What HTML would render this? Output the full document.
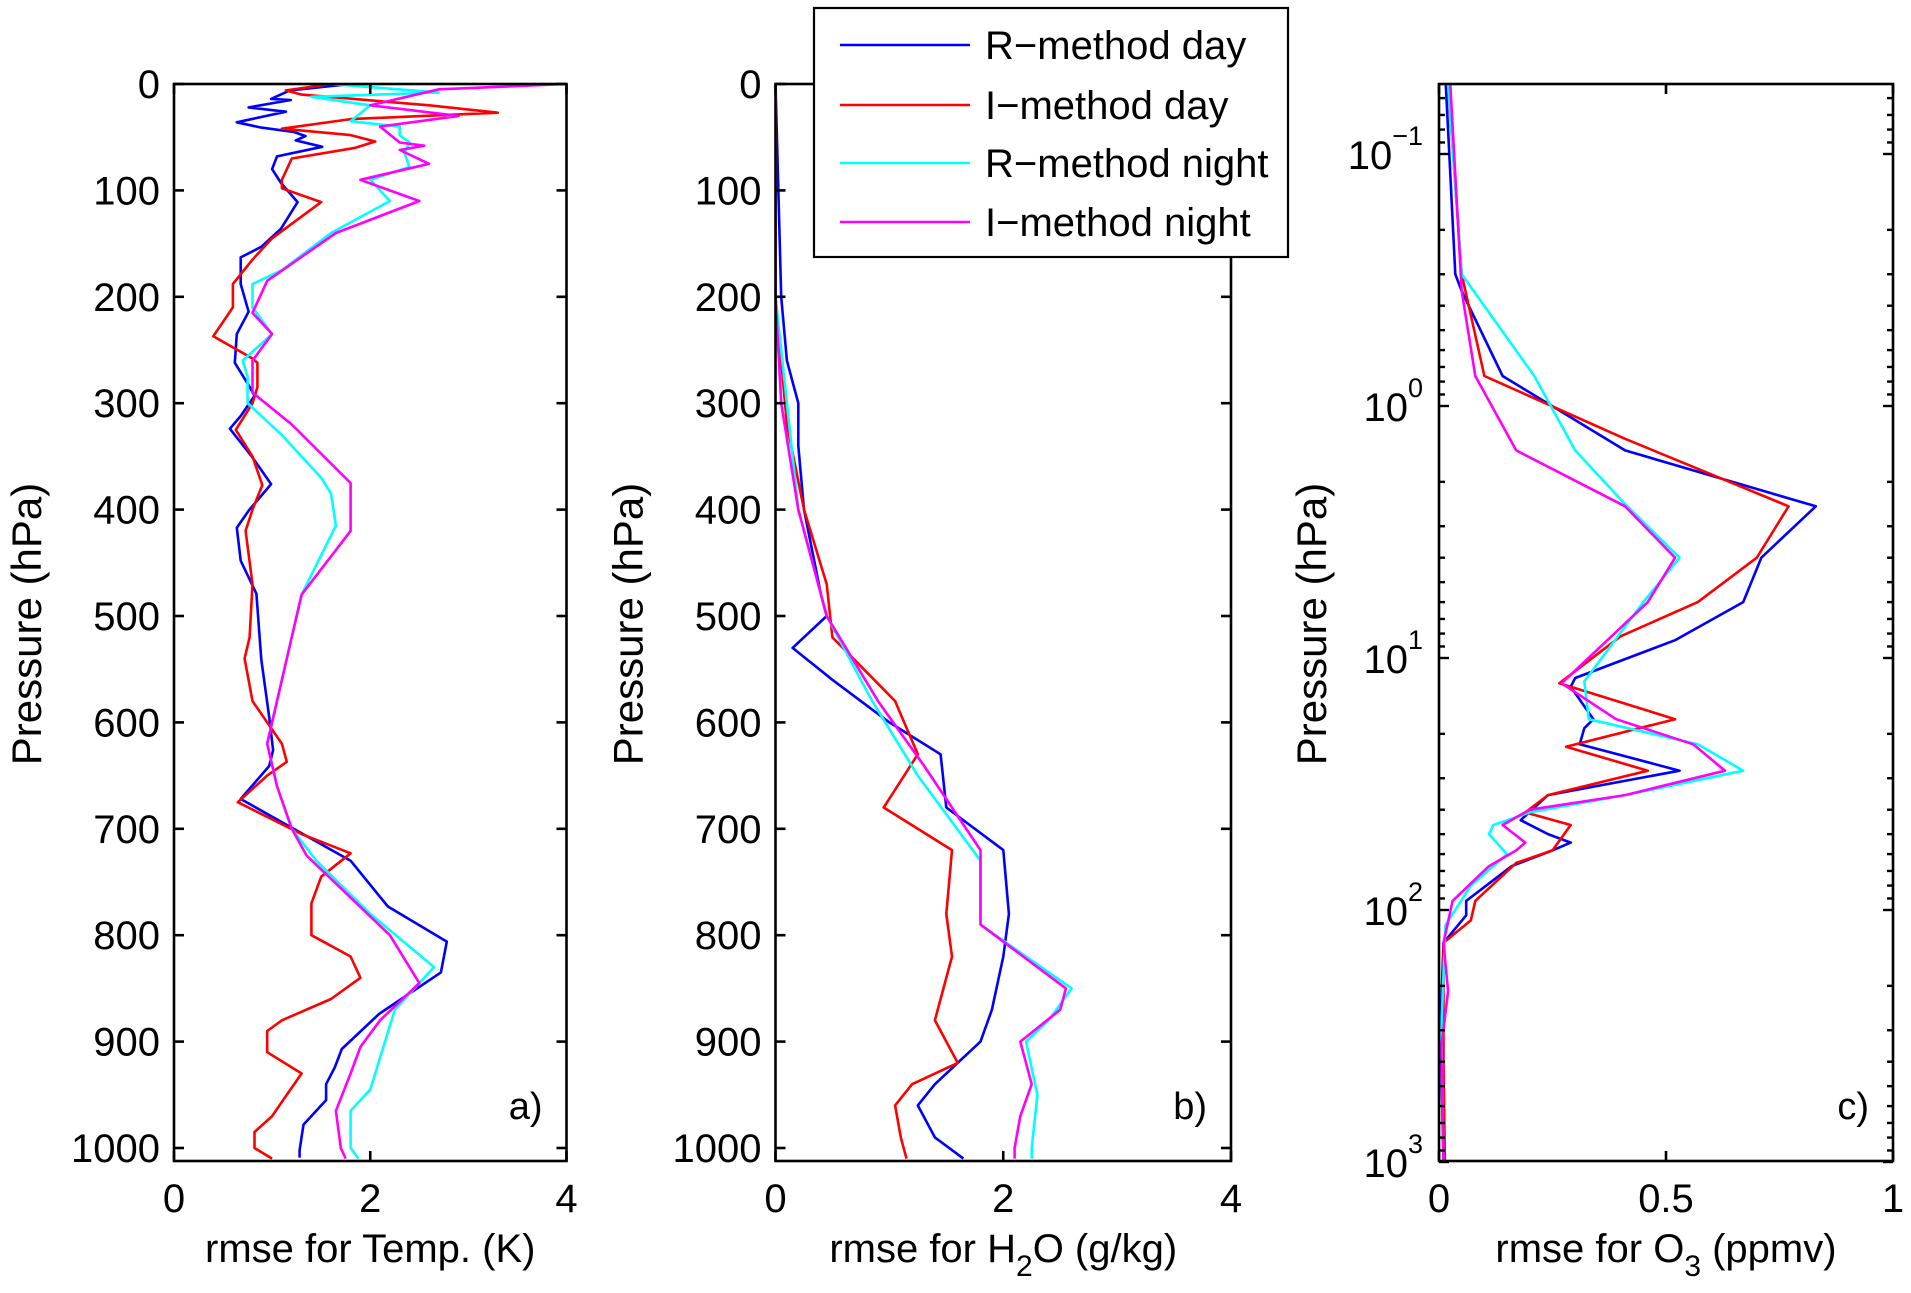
<!DOCTYPE html>
<html><head><meta charset="utf-8"><style>
html,body{margin:0;padding:0;background:#fff}
svg{display:block}
text{font-family:"Liberation Sans",sans-serif;fill:#000}
</style></head><body>
<svg id="fig" width="1911" height="1293" viewBox="0 0 1911 1293" xmlns="http://www.w3.org/2000/svg"></svg>
<script>
// ---- data ----
const seriesNames = ["R-method day","I-method day","R-method night","I-method night"];
const seriesColors = ["#0000ff","#ff0000","#00ffff","#ff00ff"];
// panel a: pressures and temperature rmse (K)
const tP0 = [0,6,14,15,22,26,36,41,45,49,53,59,68,80,93,111,136,153,163,188,214,235,262,283,293,312,324,351,376,401,417,448,479,541,595,626,641,672,730,773,806,835,874,907,924,940,955,978,1002,1009];
const tV0 = [1.8,1.18,0.99,1.19,0.76,1.14,0.64,0.89,1.22,1.34,1.24,1.51,1.05,1.0,1.09,1.26,1.09,0.89,0.68,0.68,0.76,0.64,0.62,0.76,0.82,0.68,0.57,0.8,0.99,0.76,0.64,0.68,0.84,0.89,0.97,1.01,0.97,0.68,1.8,2.18,2.78,2.72,2.09,1.71,1.64,1.55,1.55,1.32,1.28,1.28];
const tP1 = [0,6,10,20,27,33,42,48,54,60,70,90,98,111,145,165,188,210,237,258,262,285,300,325,350,377,400,420,470,520,540,580,620,637,650,675,705,723,745,770,800,820,840,860,880,890,910,930,950,970,985,1000,1010];
const tV1 = [1.6,1.14,1.3,2.6,3.3,1.8,1.1,1.8,2.05,1.85,1.2,1.1,1.1,1.5,1.0,0.8,0.6,0.6,0.4,0.8,0.85,0.85,0.8,0.63,0.8,0.9,0.8,0.73,0.8,0.77,0.72,0.8,1.1,1.15,0.95,0.65,1.3,1.8,1.5,1.4,1.4,1.8,1.9,1.6,1.1,0.95,0.95,1.3,1.15,1.0,0.82,0.82,1.0];
const tP2 = [0,8,12,20,35,40,48,55,65,78,90,110,140,175,188,210,235,260,275,300,330,370,385,415,480,560,620,660,700,730,780,830,870,900,945,965,1000,1010];
const tV2 = [1.6,2.7,1.4,2.0,1.8,2.3,2.3,2.4,2.35,2.4,2.0,2.2,1.6,1.1,0.8,0.8,1.0,0.7,0.75,0.75,1.1,1.5,1.6,1.65,1.3,1.1,0.95,1.05,1.2,1.45,2.0,2.65,2.25,2.15,2.0,1.8,1.8,1.88];
const tP3 = [0,5,20,30,40,55,58,62,75,90,110,140,185,215,235,260,290,320,375,420,480,560,620,660,700,725,800,845,880,905,930,965,1000,1010];
const tV3 = [4.0,2.7,2.0,2.9,2.1,2.3,2.55,2.3,2.6,1.9,2.5,1.65,0.95,0.8,1.0,0.8,0.8,1.2,1.8,1.8,1.3,1.1,0.95,1.05,1.2,1.35,2.2,2.5,2.1,1.9,1.8,1.65,1.7,1.75];
// panel b: water vapour rmse (g/kg)
const hP0 = [0,200,260,300,340,400,480,500,530,560,600,630,680,720,780,820,870,900,940,960,990,1010];
const hV0 = [0,0.05,0.1,0.2,0.2,0.25,0.4,0.45,0.15,0.5,1.0,1.45,1.5,2.0,2.05,2.0,1.9,1.8,1.4,1.25,1.4,1.65];
const hP1 = [0,200,260,320,400,470,520,580,630,680,720,780,820,880,920,940,960,990,1010];
const hV1 = [0,0,0.05,0.1,0.25,0.45,0.5,1.05,1.25,0.95,1.55,1.5,1.55,1.4,1.6,1.2,1.05,1.1,1.15];
const hP2 = [0,200,300,400,500,580,650,730,790,850,880,900,950,1000,1010];
const hV2 = [0,0,0.1,0.2,0.45,0.85,1.25,1.8,1.8,2.6,2.4,2.2,2.3,2.25,2.25];
const hP3 = [0,200,300,400,500,580,640,720,790,850,870,900,940,970,1000,1010];
const hV3 = [0,0,0.05,0.2,0.45,0.9,1.3,1.8,1.8,2.55,2.5,2.15,2.25,2.15,2.1,2.1];
// panel c: ozone rmse (ppmv), log pressure
const oP0 = [0.053,0.30,0.35,0.76,1.5,2.5,4.0,6.0,8.5,12,13,17.5,19,22,28,35,44,50,54,58,67,92,105,135,300,1000];
const oV0 = [0.015,0.036,0.05,0.14,0.41,0.83,0.71,0.67,0.52,0.30,0.29,0.34,0.32,0.31,0.53,0.24,0.18,0.24,0.29,0.25,0.16,0.06,0.06,0.01,0.003,0.01];
const oP1 = [0.053,0.30,0.76,1.35,2.5,4.0,6.0,8.2,12.6,17.5,22.5,28,35,41,46,58,65,92,110,135,400,1000];
const oV1 = [0.02,0.05,0.10,0.41,0.77,0.70,0.57,0.40,0.265,0.52,0.28,0.46,0.24,0.19,0.29,0.25,0.17,0.08,0.07,0.01,0.01,0.013];
const oP2 = [0.053,0.30,0.76,1.5,2.45,4.0,6.0,12.4,17.5,22,28,35,41,46,50,60,80,115,300,1000];
const oV2 = [0.02,0.05,0.21,0.30,0.41,0.53,0.45,0.32,0.33,0.57,0.67,0.41,0.20,0.12,0.11,0.15,0.07,0.014,0.005,0.01];
const oP3 = [0.053,0.35,0.76,1.5,2.5,4.0,6.0,12.6,17.5,22,28,35,40,46,54,58,67,92,135,210,350,1000];
const oV3 = [0.025,0.05,0.08,0.17,0.41,0.52,0.46,0.27,0.39,0.56,0.63,0.41,0.2,0.14,0.19,0.17,0.11,0.03,0.01,0.02,0.005,0.01];
const linTicks = [0,100,200,300,400,500,600,700,800,900,1000];
const logTicks = [-1,0,1,2,3];

const NS="http://www.w3.org/2000/svg";
const svg=document.getElementById('fig');
function mk(tag,attrs,parent){const e=document.createElementNS(NS,tag);for(const k in attrs)e.setAttribute(k,attrs[k]);(parent||svg).appendChild(e);return e;}
const TOP=84,BOT=1161;
const linY=p=>84+p*1.064;
const logY=p=>406+(Math.log10(p))*252;

function panel(id,x0,x1,xmax,xticks,xtickLabels,yfun,logscale,series,title,letter){
  const g=mk('g',{});
  
  
  const xs=v=>x0+(v/xmax)*(x1-x0);
  const clip=mk('clipPath',{id:'clip-'+id},g);
  mk('rect',{x:x0,y:TOP,width:x1-x0,height:BOT-TOP},clip);
  const sg=mk('g',{'clip-path':'url(#clip-'+id+')'},g);
  series.forEach((s,i)=>{
    const d=s[0].map((p,j)=>(j?'L':'M')+xs(s[1][j]).toFixed(1)+','+yfun(p).toFixed(1)).join(' ');
    const path=mk('path',{d:d,fill:'none',stroke:seriesColors[i],'stroke-width':2.6,'stroke-linejoin':'round'},sg);
    
    
  });
  const frame=mk('rect',{x:x0,y:TOP,width:x1-x0,height:BOT-TOP,fill:'none',stroke:'#000','stroke-width':2.6},g);
  
  
  xticks.forEach((v,i)=>{
    const x=xs(v);
    mk('line',{x1:x,x2:x,y1:BOT,y2:BOT-10,stroke:'#000','stroke-width':2.6},g);
    mk('line',{x1:x,x2:x,y1:TOP,y2:TOP+10,stroke:'#000','stroke-width':2.6},g);
    const t=mk('text',{x:x,y:1212,'font-size':40,'text-anchor':'middle'},g);
    t.textContent=xtickLabels[i];
    
    
  });
  if(!logscale){
    linTicks.forEach(p=>{
      const y=linY(p);
      mk('line',{x1:x0,x2:x0+10,y1:y,y2:y,stroke:'#000','stroke-width':2.6},g);
      mk('line',{x1:x1,x2:x1-10,y1:y,y2:y,stroke:'#000','stroke-width':2.6},g);
      const t=mk('text',{x:x0-14,y:y+14,'font-size':40,'text-anchor':'end'},g);
      t.textContent=p;
      
      
    });
  } else {
    for(let e=-2;e<=2;e++){for(let m=1;m<10;m++){
      const p=m*Math.pow(10,e);const y=logY(p);
      if(y<TOP-0.5||y>BOT+0.5)continue;
      const L=m===1?10:6;
      mk('line',{x1:x0,x2:x0+L,y1:y,y2:y,stroke:'#000','stroke-width':2.4},g);
      mk('line',{x1:x1,x2:x1-L,y1:y,y2:y,stroke:'#000','stroke-width':2.4},g);
    }}
    { const y=logY(1000); mk('line',{x1:x0,x2:x0+10,y1:y,y2:y,stroke:'#000','stroke-width':2.4},g); mk('line',{x1:x1,x2:x1-10,y1:y,y2:y,stroke:'#000','stroke-width':2.4},g);}
    logTicks.forEach(e=>{
      const y=logY(Math.pow(10,e));
      const t=mk('text',{x:x0-16,y:y+15,'font-size':40,'text-anchor':'end'},g);
      
      
      const a=mk('tspan',{},t);a.textContent='10';
      const b=mk('tspan',{dy:-24,'font-size':27},t);b.textContent=String(e).replace('-','\u2212');
    });
  }
  const xt=mk('text',{x:(x0+x1)/2,y:1262,'font-size':40,'text-anchor':'middle'},g);
  
  
  title.forEach(part=>{const s=mk('tspan',part.sub?{dy:14,'font-size':30}:(part.back?{dy:-14}:{}),xt);s.textContent=part.t;});
  const yt=mk('text',{x:0,y:0,'font-size':42,'text-anchor':'middle',transform:'translate('+(logscale?x0-113:x0-133)+',624) rotate(-90)'},g);
  yt.textContent='Pressure (hPa)';
  
  
  const lt=mk('text',{x:x1-24,y:BOT-42,'font-size':38,'text-anchor':'end'},g);
  lt.textContent=letter;
  
  
}
panel('panel-temp',174,566.5,4,[0,2,4],['0','2','4'],linY,false,[[tP0,tV0],[tP1,tV1],[tP2,tV2],[tP3,tV3]],[{t:'rmse for Temp. (K)'}],'a)');
panel('panel-h2o',775.5,1231,4,[0,2,4],['0','2','4'],linY,false,[[hP0,hV0],[hP1,hV1],[hP2,hV2],[hP3,hV3]],[{t:'rmse for H'},{t:'2',sub:true},{t:'O (g/kg)',back:true}],'b)');
panel('panel-o3',1439,1893,1,[0,0.5,1],['0','0.5','1'],logY,true,[[oP0,oV0],[oP1,oV1],[oP2,oV2],[oP3,oV3]],[{t:'rmse for O'},{t:'3',sub:true},{t:' (ppmv)',back:true}],'c)');

const lg=mk('g',{});


mk('rect',{x:814,y:8,width:474,height:249,fill:'#fff',stroke:'#000','stroke-width':2.2},lg);
const ly=[45,105,163,222];
seriesNames.forEach((n,i)=>{
  const e=mk('g',{},lg);
  
  
  mk('line',{x1:840,x2:970,y1:ly[i],y2:ly[i],stroke:seriesColors[i],'stroke-width':2.4},e);
  const t=mk('text',{x:985,y:ly[i]+14,'font-size':40},e);
  t.textContent=n.replace('-','\u2212');
});
</script>
</body></html>
